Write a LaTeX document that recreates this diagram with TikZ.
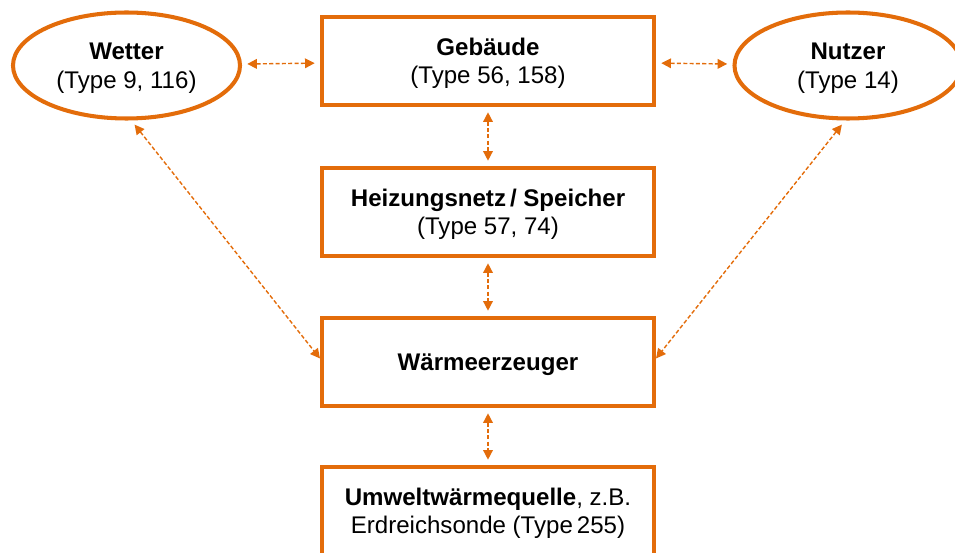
\documentclass[tikz,border=0pt]{standalone}
\usepackage{fontspec}
\setmainfont{Liberation Sans}
\usetikzlibrary{arrows.meta,shapes.geometric}

\definecolor{simorange}{RGB}{227,108,10}

\tikzset{
  every node/.style={font=\fontsize{13.7}{16.2}\selectfont},
  box/.style={draw=simorange, line width=2.3pt, minimum width=6.64cm,
    minimum height=1.76cm, align=center, text depth=0pt},
  oval/.style={ellipse, draw=simorange, line width=2.3pt, minimum width=4.54cm,
    minimum height=2.12cm, inner sep=0pt, align=center, text depth=0pt},
  link/.style={simorange, line width=0.8pt, dash pattern=on 2.3pt off 1.3pt,
    {Triangle[length=5.5pt,width=5.5pt]}-{Triangle[length=5.5pt,width=5.5pt]},
    shorten <=3pt, shorten >=3pt}
}

\begin{document}
\begin{tikzpicture}
          \useasboundingbox (0,0) rectangle (19.1,-11.06);
          \clip (0,0) rectangle (19.1,-11.06);

          % components
          \node[oval] (wetter) at (2.53,-1.31) {\textbf{Wetter}\\(Type 9, 116)};
          \node[oval] (nutzer) at (16.96,-1.31) {\textbf{Nutzer}\\(Type 14)};
          \node[box] (gebaeude) at (9.76,-1.22) {\textbf{Gebäude}\\(Type 56, 158)};
          \node[box] (netz) at (9.76,-4.24) {\textbf{Heizungsnetz\,/ Speicher}\\(Type 57, 74)};
          \node[box] (erzeuger) at (9.76,-7.24) {\textbf{Wärmeerzeuger}};
          \node[box] (quelle) at (9.76,-10.22) {\textbf{Umweltwärmequelle}, z.B.\\Erdreichsonde (Type\,255)};

          % couplings
          \draw[link] (wetter) -- (gebaeude);
          \draw[link] (gebaeude) -- (nutzer);
          \draw[link] (gebaeude) -- (netz);
          \draw[link] (netz) -- (erzeuger);
          \draw[link] (erzeuger) -- (quelle);

          % diagonal couplings
          \tikzset{link/.append style={shorten >=0pt}};
          \draw[link] (wetter.-85) -- ([yshift=2pt]erzeuger.west);
          \draw[link] (nutzer.-93) -- ([yshift=2pt]erzeuger.east);
\end{tikzpicture}
\end{document}
